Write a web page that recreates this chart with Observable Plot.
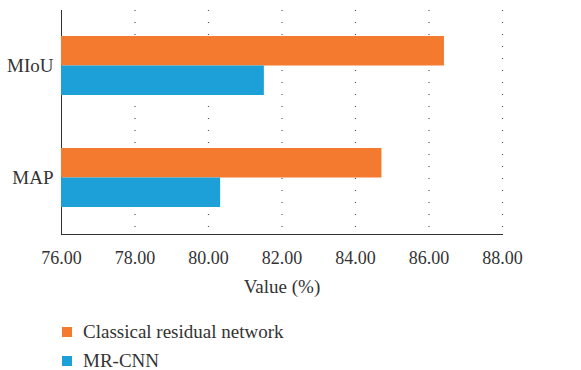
<!DOCTYPE html>
<html>
<head>
<meta charset="utf-8">
<script src="https://cdn.jsdelivr.net/npm/d3@7"></script>
<script src="https://cdn.jsdelivr.net/npm/@observablehq/plot@0.6"></script>
<style>
  html, body { margin: 0; padding: 0; background: #fff; }
  #chart { width: 581px; font-family: "Liberation Serif", "DejaVu Serif", serif; color: #333; }
  .legend { padding-top: 18px; }
  .legend .item { display: flex; align-items: center; height: 18px; line-height: 18px; margin-bottom: 11px; margin-left: 62px; font-size: 19px; color: #333; }
  .legend .swatch { width: 10px; height: 10px; margin-right: 11px; }
  #chart svg g[aria-label="y-axis tick label"] text,
  #chart svg g[aria-label="x-axis label"] text { font-size: 19px; }
</style>
</head>
<body>
<div id="chart"></div>
<script>
// Metrics (rows) and the two models compared on each
const metrics = ["MIoU", "MAP"];
const series = ["Classical residual network", "MR-CNN"];
const classical = [86.42, 84.72];
const mrcnn = [81.52, 80.33];
const xTicks = [76, 78, 80, 82, 84, 86, 88];
const colors = ["#f47a30", "#1d9fd8"];

const rowsClassical = metrics.map((m, i) => ({metric: m, model: series[0], value: classical[i]}));
const rowsMrcnn = metrics.map((m, i) => ({metric: m, model: series[1], value: mrcnn[i]}));
const base = xTicks[0];

const plot = Plot.plot({
  width: 581,
  height: 305,
  marginLeft: 61,
  marginRight: 79,
  marginTop: 10,
  marginBottom: 71,
  style: {fontFamily: "'Liberation Serif', 'DejaVu Serif', serif", fontSize: "18px", color: "#333", background: "#fff"},
  x: {
    domain: [xTicks[0], xTicks[xTicks.length - 1]],
    ticks: xTicks,
    tickFormat: d3.format(".2f"),
    tickSize: 0,
    tickPadding: 17,
    label: "Value (%)",
    labelAnchor: "center",
    labelArrow: "none",
    labelOffset: 58,
    line: true
  },
  y: {
    domain: metrics,
    paddingInner: 0.473,
    paddingOuter: 0.2365,
    tickSize: 0,
    tickPadding: 8,
    label: null,
    line: true
  },
  color: {domain: series, range: colors},
  marks: [
    Plot.ruleX(xTicks.slice(1), {stroke: "#555", strokeWidth: 1.2, strokeDasharray: "1,11"}),
    Plot.barX(rowsClassical, {x1: () => base, x2: "value", y: "metric", fill: "model", insetBottom: 29.5}),
    Plot.barX(rowsMrcnn, {x1: () => base, x2: "value", y: "metric", fill: "model", insetTop: 29.5})
  ]
});

const chart = document.getElementById("chart");
chart.appendChild(plot);
plot.querySelectorAll("g[aria-label$='axis'] path").forEach(p => p.setAttribute("stroke-width", 1.5));

// Legend below the plot
const legend = document.createElement("div");
legend.className = "legend";
series.forEach((s, i) => {
  const item = document.createElement("div");
  item.className = "item";
  const sw = document.createElement("span");
  sw.className = "swatch";
  sw.style.background = colors[i];
  const label = document.createElement("span");
  label.textContent = s;
  item.appendChild(sw);
  item.appendChild(label);
  legend.appendChild(item);
});
chart.appendChild(legend);
</script>
</body>
</html>
